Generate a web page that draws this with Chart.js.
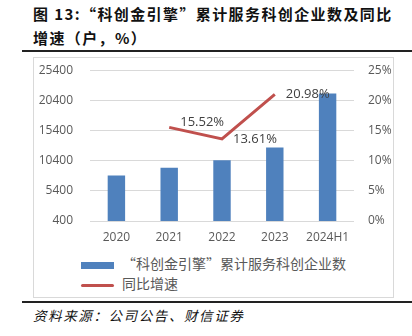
<!DOCTYPE html>
<html>
<head>
<meta charset="utf-8">
<script src="https://cdn.jsdelivr.net/npm/chart.js@4.4.0/dist/chart.umd.min.js"></script>
<style>
  html, body { margin: 0; padding: 0; background: #fff; }
  body { width: 412px; height: 336px; position: relative; overflow: hidden; font-family: "Noto Sans CJK SC", sans-serif; }
  .title { position: absolute; left: 33px; font-size: 15px; font-weight: 700; color: #111; letter-spacing: 1.4px; white-space: nowrap; }
  .rule { position: absolute; left: 22px; width: 390px; height: 2px; background: #222; }
  .box { position: absolute; left: 33px; top: 57px; width: 359px; height: 239px; border: 1px solid #d9d9d9; }
  .chartWrap { position: absolute; left: 0; top: -12px; width: 359px; height: 203px; }
  .legend { position: absolute; left: 47px; font-size: 14px; color: #595959; white-space: nowrap; }
  .legend .sw { display: inline-block; vertical-align: middle; width: 33px; margin-right: 8px; }
  .source { position: absolute; left: 33px; top: 305px; font-size: 13.5px; font-style: italic; color: #111; letter-spacing: 1.6px; }
</style>
</head>
<body>
<div class="title" style="top:3px">图 13:“科创金引擎”累计服务科创企业数及同比</div>
<div class="title" style="top:27px">增速（户，%）</div>
<div class="rule" style="top:50px"></div>
<div class="box">
  <div class="chartWrap"><canvas id="chart"></canvas></div>
  <div class="legend" style="top:195px"><span class="sw" style="height:7px;background:#4F81BD"></span><span id="barLabel"></span></div>
  <div class="legend" style="top:215px"><span class="sw" style="height:3px;background:#C0504D;border-radius:2px"></span><span id="lineLabel"></span></div>
</div>
<div class="rule" style="top:301px"></div>
<div class="source">资料来源：公司公告、财信证券</div>

<script>
// data
const categories = ['2020', '2021', '2022', '2023', '2024H1'];
const companyCounts = [7950, 9230, 10480, 12600, 21550];
const growthRates = [null, 15.52, 13.61, 20.98, null];
const leftTicks = [400, 5400, 10400, 15400, 20400, 25400];
const rightTicks = [0, 5, 10, 15, 20, 25];
const barName = '“科创金引擎”累计服务科创企业数';
const lineName = '同比增速';

document.getElementById('barLabel').textContent = barName;
document.getElementById('lineLabel').textContent = lineName;

// draws the % labels to the right of each line point
const lineLabels = {
    id: 'lineLabels',
    afterDatasetsDraw(chart) {
        const ctx = chart.ctx;
        const meta = chart.getDatasetMeta(1);
        ctx.save();
        ctx.font = '13px "Open Sans", sans-serif';
        ctx.fillStyle = '#404040';
        ctx.textAlign = 'left';
        ctx.textBaseline = 'middle';
        meta.data.forEach(function(pt, i) {
            const v = growthRates[i];
            if (v === null) return;
            const dy = i === 1 ? -5 : 0;
            ctx.fillText(v.toFixed(2) + '%', pt.x + 11, pt.y + dy);
        });
        ctx.restore();
    }
};

const tickFont = { family: '"Open Sans", sans-serif', size: 12 };

new Chart(document.getElementById('chart').getContext('2d'), {
    type: 'bar',
    data: {
        labels: categories,
        datasets: [{
            label: barName,
            data: companyCounts,
            backgroundColor: '#4F81BD',
            barPercentage: 0.33,
            categoryPercentage: 1,
            yAxisID: 'y',
            order: 2
        }, {
            type: 'line',
            label: lineName,
            data: growthRates,
            borderColor: '#C0504D',
            borderWidth: 3,
            pointRadius: 0,
            tension: 0,
            yAxisID: 'y1',
            order: 1
        }]
    },
    options: {
        responsive: true,
        maintainAspectRatio: false,
        animation: false,
        layout: { padding: 0 },
        plugins: {
            legend: { display: false },
            tooltip: { enabled: false }
        },
        scales: {
            x: {
                grid: { display: false, drawTicks: false },
                border: { display: false },
                ticks: { color: '#595959', font: tickFont, padding: 9 },
                afterFit(scale) { scale.height = 28; }
            },
            y: {
                position: 'left',
                min: leftTicks[0],
                max: leftTicks[leftTicks.length - 1],
                afterBuildTicks(scale) { scale.ticks = leftTicks.map(v => ({ value: v })); },
                grid: { color: '#d9d9d9', lineWidth: 1, drawTicks: false, tickLength: 0 },
                border: { display: false },
                ticks: { color: '#595959', font: tickFont, padding: 17, callback: v => String(v) },
                afterFit(scale) { scale.width = 56; }
            },
            y1: {
                position: 'right',
                min: rightTicks[0],
                max: rightTicks[rightTicks.length - 1],
                afterBuildTicks(scale) { scale.ticks = rightTicks.map(v => ({ value: v })); },
                grid: { display: false, drawTicks: false, tickLength: 0 },
                border: { display: false },
                ticks: { color: '#595959', font: tickFont, padding: 14, callback: v => v + '%' },
                afterFit(scale) { scale.width = 39; }
            }
        }
    },
    plugins: [lineLabels]
});
</script>
</body>
</html>
